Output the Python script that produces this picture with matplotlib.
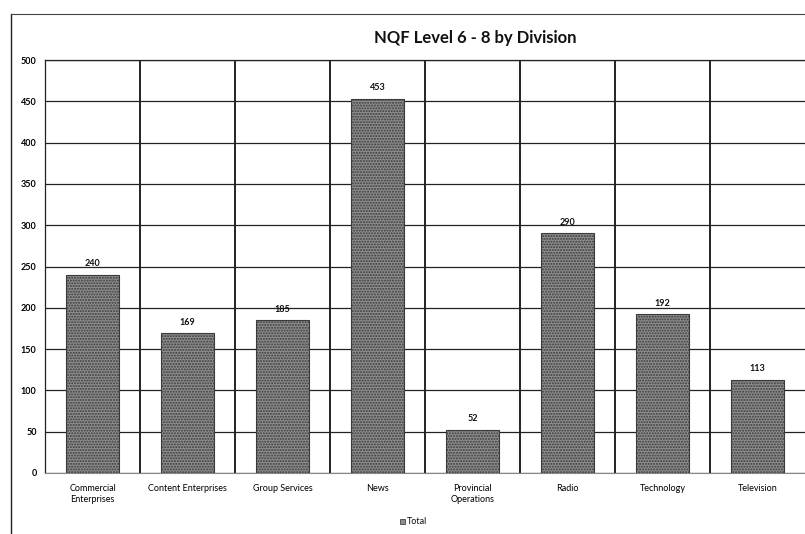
import matplotlib
matplotlib.use("Agg")
import matplotlib.pyplot as plt
import numpy as np
from matplotlib.patches import Rectangle

plt.rcParams['font.family'] = ['Lato', 'DejaVu Sans']
plt.rcParams['hatch.color'] = '#5a5a5a'

categories = ["Commercial\nEnterprises", "Content Enterprises", "Group Services", "News",
              "Provincial\nOperations", "Radio", "Technology", "Television"]
totals = [240, 169, 185, 453, 52, 290, 192, 113]
y_ticks = [0, 50, 100, 150, 200, 250, 300, 350, 400, 450, 500]

W, H = 805, 534
fig = plt.figure(figsize=(W / 100, H / 100), dpi=100)
ax = fig.add_axes([45 / W, 1 - 473 / H, 1 - 45 / W, (473 - 60) / H])

x = np.arange(len(categories))
ax.bar(x, totals, width=0.56, color="#8e8e8e", edgecolor="#3a3a3a", linewidth=0.8,
       hatch="......", zorder=3)

for xi, v in zip(x, totals):
    ax.text(xi, v + 8, str(v), ha="center", va="bottom", fontsize=6.5,
            fontweight="bold", color="#111111", zorder=4)

ax.set_xlim(-0.5, len(categories) - 0.5)
ax.set_ylim(0, 500)
ax.set_yticks(y_ticks)
ax.set_yticklabels([str(t) for t in y_ticks], fontsize=6.5, fontweight="bold")
ax.set_xticks(x)
ax.set_xticklabels(categories, fontsize=6.5, linespacing=1.3)
ax.tick_params(axis="both", length=0, pad=6)
ax.tick_params(axis="x", pad=8)

# horizontal gridlines and category separators
ax.set_xticks(np.arange(len(categories) - 1) + 0.5, minor=True)
ax.grid(axis="y", color="#222222", linewidth=0.9, zorder=0)
ax.grid(axis="x", which="minor", color="#111111", linewidth=1.3, zorder=0)
ax.tick_params(axis="x", which="minor", length=0)

ax.spines["right"].set_visible(False)
ax.spines["left"].set_color("#222222")
ax.spines["left"].set_linewidth(0.9)
ax.spines["bottom"].set_color("#888888")
ax.spines["bottom"].set_linewidth(0.8)
ax.spines["top"].set_color("#222222")
ax.spines["top"].set_linewidth(0.9)

# chart frame
fig.add_artist(plt.Line2D([11 / W, 11 / W], [0, 1 - 14 / H], transform=fig.transFigure,
                          color="#222222", linewidth=1.0))
fig.add_artist(plt.Line2D([11 / W, 1], [1 - 14 / H, 1 - 14 / H], transform=fig.transFigure,
                          color="#444444", linewidth=0.8))

fig.text(475 / W, 1 - 38 / H, "NQF Level 6 - 8 by Division", ha="center", va="center",
         fontsize=12, fontweight="bold", color="#111111")

# legend
fig.patches.append(Rectangle((400 / W, 1 - 524 / H), 5 / W, 5 / H, transform=fig.transFigure,
                             facecolor="#8e8e8e", edgecolor="#444444", linewidth=0.6))
fig.text(407 / W, 1 - 521 / H, "Total", ha="left", va="center", fontsize=6.5, color="#111111")

fig.savefig("out.png", dpi=100)
